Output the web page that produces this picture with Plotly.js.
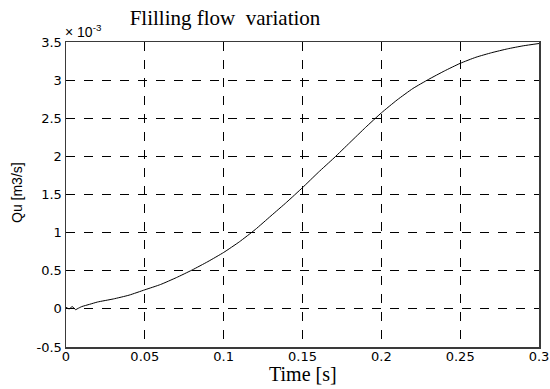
<!DOCTYPE html>
<html>
<head>
<meta charset="utf-8">
<script src="https://cdn.plot.ly/plotly-3.0.1.min.js"></script>
<style>html,body{margin:0;padding:0;background:#fff;}#chart{width:550px;height:389px;}</style>
</head>
<body>
<div id="chart"></div>
<script>
// Time [s]
const time = [0, 0.002, 0.004, 0.006, 0.008, 0.01, 0.015, 0.02, 0.03, 0.04, 0.05, 0.06, 0.07, 0.08, 0.09, 0.1, 0.11, 0.12, 0.13, 0.14, 0.15, 0.16, 0.17, 0.18, 0.19, 0.2, 0.21, 0.22, 0.23, 0.24, 0.25, 0.26, 0.27, 0.28, 0.29, 0.3];
// Qu [m3/s] in units of 1e-3
const flowE3 = [0.02, 0.0, 0.03, -0.01, 0.01, 0.03, 0.06, 0.09, 0.13, 0.18, 0.25, 0.32, 0.41, 0.51, 0.62, 0.74, 0.88, 1.04, 1.22, 1.40, 1.59, 1.79, 1.98, 2.18, 2.38, 2.57, 2.74, 2.89, 3.01, 3.12, 3.22, 3.30, 3.36, 3.41, 3.45, 3.48];
const xTickVals = [0, 0.05, 0.1, 0.15, 0.2, 0.25, 0.3];
const xTickText = ['0', '0.05', '0.1', '0.15', '0.2', '0.25', '0.3'];
const yTickVals = [-0.5, 0, 0.5, 1, 1.5, 2, 2.5, 3, 3.5];
const yTickText = ['-0.5', '0', '0.5', '1', '1.5', '2', '2.5', '3', '3.5'];

const sans = 'Liberation Sans, Arial, sans-serif';
const tickSans = 'DejaVu Sans, Liberation Sans, sans-serif';
const serif = 'Liberation Serif, Times New Roman, serif';

const trace = {
  x: time, y: flowE3, type: 'scatter', mode: 'lines',
  line: {color: '#000', width: 1, shape: 'spline', smoothing: 0.5}, hoverinfo: 'skip'
};

const axisCommon = {
  showline: true, mirror: true, linecolor: '#3a3a3a', linewidth: 1.5,
  showgrid: true, gridcolor: '#000', gridwidth: 1, griddash: 'dash',
  zeroline: false, ticks: '', tickmode: 'array',
  tickfont: {family: tickSans, size: 13, color: '#000'}
};

const layout = {
  width: 550, height: 389,
  margin: {l: 66, r: 11, t: 42, b: 42},
  paper_bgcolor: '#fff', plot_bgcolor: '#fff',
  showlegend: false,
  title: {
    text: 'Flilling flow&nbsp; variation',
    font: {family: serif, size: 21, color: '#000'},
    x: 225 / 550, xanchor: 'center', xref: 'container',
    y: 1 - 18 / 389, yanchor: 'middle', yref: 'container'
  },
  xaxis: Object.assign({}, axisCommon, {
    range: [0, 0.3], tickvals: xTickVals, ticktext: xTickText,
    ticklabelstandoff: -3
  }),
  yaxis: Object.assign({}, axisCommon, {
    range: [-0.5, 3.5], tickvals: yTickVals, ticktext: yTickText
  }),
  annotations: [
    {
      text: '× 10<sup>-3</sup>', xref: 'paper', yref: 'paper',
      x: 0, y: 1, xanchor: 'left', yanchor: 'bottom', showarrow: false,
      xshift: -3, yshift: 0,
      font: {family: sans, size: 14, color: '#000'}
    },
    {
      text: 'Time [s]', xref: 'paper', yref: 'paper',
      x: 0.5, y: (347 - 362) / 305, xanchor: 'center', yanchor: 'top', showarrow: false,
      borderpad: 0,
      font: {family: serif, size: 20, color: '#000'}
    },
    {
      text: 'Qu [m3/s]', xref: 'paper', yref: 'paper', textangle: -90,
      x: (17 - 66) / 473, y: (347 - 193) / 305, xanchor: 'center', yanchor: 'middle', showarrow: false,
      font: {family: sans, size: 14, color: '#000'}
    }
  ]
};

Plotly.newPlot('chart', [trace], layout, {displayModeBar: false, staticPlot: true});
</script>
</body>
</html>
